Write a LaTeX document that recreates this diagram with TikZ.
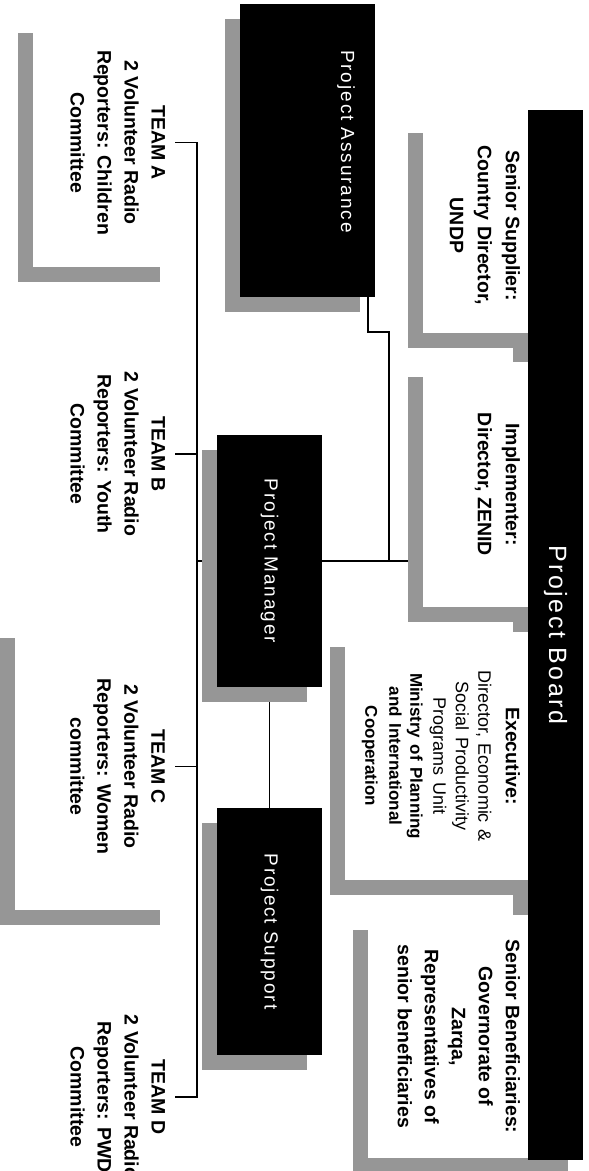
\documentclass[tikz,border=0pt]{standalone}
\usepackage{fontspec}
\setmainfont{Liberation Sans}
\newfontfamily\spacedfont[LetterSpace=10]{Liberation Sans}
\usepackage{tikz}
\usetikzlibrary{shadows,backgrounds,positioning}
\usepackage{xcolor}
\definecolor{pbshade}{RGB}{150,150,150}
\tikzstyle{darkbox} = [rectangle, inner sep=0pt, fill=black, drop shadow={shadow xshift=-15pt, shadow yshift=-15pt, opacity=1, fill=pbshade}]
\tikzstyle{whitebox} = [rectangle, inner sep=0pt, fill=white, drop shadow={shadow xshift=-15pt, shadow yshift=-15pt, opacity=1, fill=pbshade}]
\tikzstyle{plainbox} = [rectangle, inner sep=0pt]
\tikzstyle{darklabel} = [rotate=-90, inner sep=0pt, text=white, font=\spacedfont\fontsize{19}{22}\selectfont]
\tikzstyle{boldlabel} = [rotate=-90, inner sep=0pt, anchor=north, align=center, font=\bfseries\fontsize{19.5}{27}\selectfont]
\tikzstyle{conn} = [line width=1.6pt, color=black]

\begin{document}
\begin{tikzpicture}[x=1pt, y=-1pt]
\useasboundingbox (0,0) rectangle (589,1171);
\clip (0,0) rectangle (589,1171);

% Board and its members
\node (board) [darkbox, minimum width=55pt, minimum height=1050pt] at (555.5,635) {};
\node at (board.center) [darklabel, font=\spacedfont\fontsize{25}{28}\selectfont] {Project Board};
\node (sensup) [whitebox, minimum width=105pt, minimum height=215pt] at (475.5,225.5) {};
\node at ([xshift=-8pt]sensup.east) [boldlabel, font=\bfseries\fontsize{19.5}{28}\selectfont] {Senior Supplier:\\Country Director,\\UNDP};
\node (impl) [whitebox, minimum width=105pt, minimum height=245pt] at (475.5,484.5) {};
\node at ([xshift=-8pt]impl.east) [boldlabel, font=\bfseries\fontsize{19.5}{28}\selectfont] {Implementer:\\Director, ZENID};
\node (exec) [whitebox, minimum width=183pt, minimum height=248pt] at (436.5,756) {};
\node at ([xshift=-8pt]exec.east) [boldlabel, text width=240pt, font=\bfseries\fontsize{19.5}{24}\selectfont] {Executive:\\[5pt]
  \mdseries\fontsize{18}{22.5}\selectfont Director, Economic \&\\Social Productivity\\Programs Unit\\[2pt]
  \bfseries\fontsize{17}{21}\selectfont Ministry of Planning\\and International\\Cooperation};
\node (senben) [whitebox, minimum width=160pt, minimum height=243pt] at (448,1036.5) {};
\node at ([xshift=-8pt]senben.east) [boldlabel] {Senior Beneficiaries:\\Governorate of\\Zarqa,\\Representatives of\\senior beneficiaries};

% Management
\node (pa) [darkbox, minimum width=135pt, minimum height=293pt] at (307.5,150.5) {};
\node at (355,50) [darklabel, anchor=north west] {Project Assurance};
\node (pm) [darkbox, minimum width=105pt, minimum height=252pt] at (269.5,561) {};
\node at (pm.center) [darklabel] {Project Manager};
\node (ps) [darkbox, minimum width=105pt, minimum height=247pt] at (269.5,931.5) {};
\node at (ps.center) [darklabel] {Project Support};

% Teams
\node (teama) [whitebox, minimum width=142pt, minimum height=249pt] at (104,142.5) {};
\node at ([xshift=-10pt]teama.east) [boldlabel] {TEAM A\\2 Volunteer Radio\\Reporters: Children\\Committee};
\node (teamb) [plainbox, minimum width=142pt, minimum height=248pt] at (104,454) {};
\node at ([xshift=-10pt]teamb.east) [boldlabel] {TEAM B\\2 Volunteer Radio\\Reporters: Youth\\Committee};
\node (teamc) [whitebox, minimum width=160pt, minimum height=287pt] at (95,766.5) {};
\node at ([xshift=-10pt]teamc.east) [boldlabel] {TEAM C\\2 Volunteer Radio\\Reporters: Women\\committee};
\node (teamd) [plainbox, minimum width=142pt, minimum height=244pt] at (104,1097) {};
\node at ([xshift=-10pt]teamd.east) [boldlabel] {TEAM D\\2 Volunteer Radio\\Reporters: PWD\\Committee};

% Connectors
\begin{scope}[on background layer]
\draw[conn] (teama.east) -- ++(22,0) coordinate (rail) |- (teamd.east);
\draw[conn] (teamb.east) -- (teamb.east -| rail);
\draw[conn] (teamc.east) -- (teamc.east -| rail);
\draw[conn] (pm.west) -- (pm.west -| rail);
\draw[conn] (pm.south) -- (ps.north);
\draw[conn] (pm.east) -- (pm.east -| impl.west);
\draw[conn] ([xshift=-7pt]pa.south east) -- ++(0,35) -- ++(21,0) |- (pm.east);
\end{scope}
\end{tikzpicture}
\end{document}
